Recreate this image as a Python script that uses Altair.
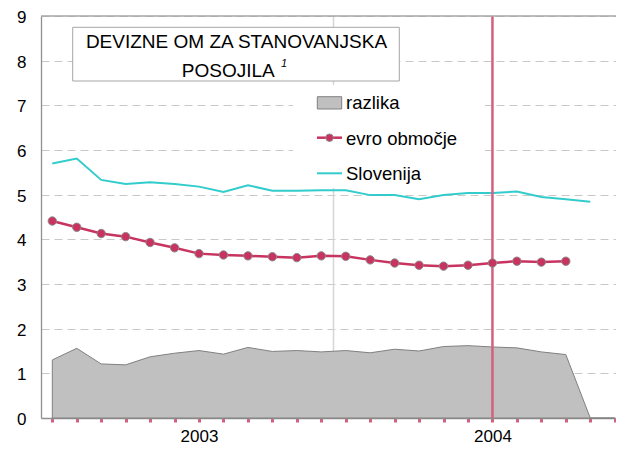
import altair as alt
import pandas as pd

# ---------------- data ----------------
months = list(range(24))  # Jan 2003 .. Dec 2004
slovenija = [5.70, 5.81, 5.33, 5.24, 5.28, 5.24, 5.18, 5.06, 5.21, 5.09, 5.09, 5.10,
             5.10, 4.99, 4.99, 4.90, 4.99, 5.04, 5.04, 5.07, 4.95, 4.90, 4.84]
evro = [4.41, 4.27, 4.13, 4.06, 3.93, 3.81, 3.68, 3.65, 3.63, 3.61, 3.59, 3.63,
        3.62, 3.54, 3.47, 3.42, 3.40, 3.42, 3.47, 3.51, 3.49, 3.51]
razlika = [1.30, 1.56, 1.21, 1.19, 1.37, 1.45, 1.51, 1.43, 1.58, 1.49, 1.51, 1.48,
           1.51, 1.46, 1.54, 1.50, 1.60, 1.62, 1.59, 1.57, 1.48, 1.42, 0.0, 0.0]
year_labels = ["2003", "2004"]
year_positions = [6, 18]
y_ticks = list(range(10))
separator = [11.5]
marker = [18]
legend_labels = ["razlika", "evro območje", "Slovenija"]
title_lines = ["DEVIZNE OM ZA STANOVANJSKA", "POSOJILA"]
footnote = "1"

# ---------------- styling ----------------
FONT = "Liberation Sans"
C_EVRO = "#c8335f"
C_MARK = "#d4607f"
C_SLO = "#33cccc"
C_AREA = "#c0c0c0"
C_AREA_STROKE = "#808080"
C_AXIS = "#909090"

W, H = 575, 402

df_slo = pd.DataFrame({"m": months[:len(slovenija)], "v": slovenija})
df_evro = pd.DataFrame({"m": months[:len(evro)], "v": evro})
df_raz = pd.DataFrame({"m": months[:len(razlika)], "v": razlika})
df_sep = pd.DataFrame({"m": separator})
df_mark = pd.DataFrame({"m": marker})
df_top = pd.DataFrame({"v": [y_ticks[-1]]})
one = pd.DataFrame({"a": [0]})

label_expr = "".join(
    f"datum.value == {p} ? '{l}' : " for p, l in zip(year_positions, year_labels)
) + "''"

xscale = alt.Scale(domain=[-0.462, 23.053], nice=False, zero=False)
yscale = alt.Scale(domain=[0, 9], nice=False)

x_axis = alt.Axis(values=months, labelExpr=label_expr, title=None, grid=False,
                  domainColor=C_AXIS, domainWidth=1.3, tickColor=C_MARK, tickWidth=3,
                  tickSize=4, labelFontSize=17, labelPadding=19,
                  labelBaseline="alphabetic", labelFont=FONT, labelColor="black",
                  labelFlush=False, labelOverlap=False, labelAngle=0)
y_axis = alt.Axis(values=y_ticks, title=None, ticks=False, tickSize=0, grid=True,
                  gridDash=[8, 5], gridColor="#c8c8c8", gridWidth=1,
                  domainColor=C_AXIS, domainWidth=1.3, labelFontSize=17,
                  labelPadding=15, labelFont=FONT, labelColor="black",
                  labelBaseline="middle", labelOffset=1.5)


def X(f="m"):
    return alt.X(f"{f}:Q", scale=xscale, axis=x_axis)


def Y(f="v"):
    return alt.Y(f"{f}:Q", scale=yscale, axis=y_axis)


sep_rule = alt.Chart(df_sep).mark_rule(color="#d6d6d6", strokeWidth=1.5).encode(x=X())

area = alt.Chart(df_raz).mark_area(
    color=C_AREA, stroke=C_AREA_STROKE, strokeWidth=1, opacity=1
).encode(x=X(), y=Y())

# title box and legend background
title_box = alt.Chart(one).mark_rect(fill="white", stroke="#a6a6a6", strokeWidth=1).encode(
    x=alt.value(31.7), x2=alt.value(358.3), y=alt.value(11.3), y2=alt.value(65))
legend_box = alt.Chart(one).mark_rect(fill="white").encode(
    x=alt.value(252), x2=alt.value(444), y=alt.value(69), y2=alt.value(172))

slo_line = alt.Chart(df_slo).mark_line(color=C_SLO, strokeWidth=2).encode(x=X(), y=Y())

mark_rule = alt.Chart(df_mark).mark_rule(color=C_MARK, strokeWidth=2.5).encode(x=X())

evro_line = alt.Chart(df_evro).mark_line(color=C_EVRO, strokeWidth=2.5).encode(x=X(), y=Y())
evro_pts = alt.Chart(df_evro).mark_circle(
    size=70, color=C_EVRO, stroke="#8a8a8a", strokeWidth=1, opacity=1
).encode(x=X(), y=Y())

top_rule = alt.Chart(df_top).mark_rule(color="#a6a6a6", strokeWidth=1.3).encode(y=Y())

# title text
t1 = alt.Chart(pd.DataFrame({"t": [title_lines[0]]})).mark_text(
    font=FONT, fontSize=19, align="center", baseline="alphabetic", color="black"
).encode(x=alt.value(195.5), y=alt.value(31.7), text="t:N")
t2 = alt.Chart(pd.DataFrame({"t": [title_lines[1]]})).mark_text(
    font=FONT, fontSize=19, align="center", baseline="alphabetic", color="black"
).encode(x=alt.value(187.3), y=alt.value(60.5), text="t:N")
t3 = alt.Chart(pd.DataFrame({"t": [footnote]})).mark_text(
    font=FONT, fontSize=11, fontStyle="italic", align="left", baseline="alphabetic",
    color="black"
).encode(x=alt.value(240), y=alt.value(51), text="t:N")

# legend
leg_sq = alt.Chart(one).mark_rect(fill=C_AREA, stroke=C_AREA_STROKE, strokeWidth=1).encode(
    x=alt.value(276.3), x2=alt.value(300.7), y=alt.value(80.7), y2=alt.value(93))
leg_evro_line = alt.Chart(one).mark_rule(color=C_EVRO, strokeWidth=2.5).encode(
    x=alt.value(276), x2=alt.value(301), y=alt.value(121.7))
leg_evro_pt = alt.Chart(one).mark_circle(
    size=55, color=C_EVRO, stroke="#8a8a8a", strokeWidth=1, opacity=1
).encode(x=alt.value(288.5), y=alt.value(121.7))
leg_slo_line = alt.Chart(one).mark_rule(color=C_SLO, strokeWidth=2).encode(
    x=alt.value(276), x2=alt.value(301), y=alt.value(157.3))

leg_texts = []
for lab, yy in zip(legend_labels, [93, 128.5, 163.5]):
    leg_texts.append(
        alt.Chart(pd.DataFrame({"t": [lab]})).mark_text(
            font=FONT, fontSize=18.5, align="left", baseline="alphabetic", color="black"
        ).encode(x=alt.value(305), y=alt.value(yy), text="t:N")
    )

chart = alt.layer(
    sep_rule, area, title_box, legend_box, slo_line, mark_rule, evro_line, evro_pts,
    top_rule, t1, t2, t3, leg_sq, leg_evro_line, leg_evro_pt, leg_slo_line, *leg_texts
).properties(
    width=W, height=H,
    autosize=alt.AutoSizeParams(type="none"),
    padding={"left": 33, "top": 8, "right": 0, "bottom": 27},
).configure_view(stroke=None)

chart.save("out.html", embed_options={"renderer": "svg", "actions": False})
